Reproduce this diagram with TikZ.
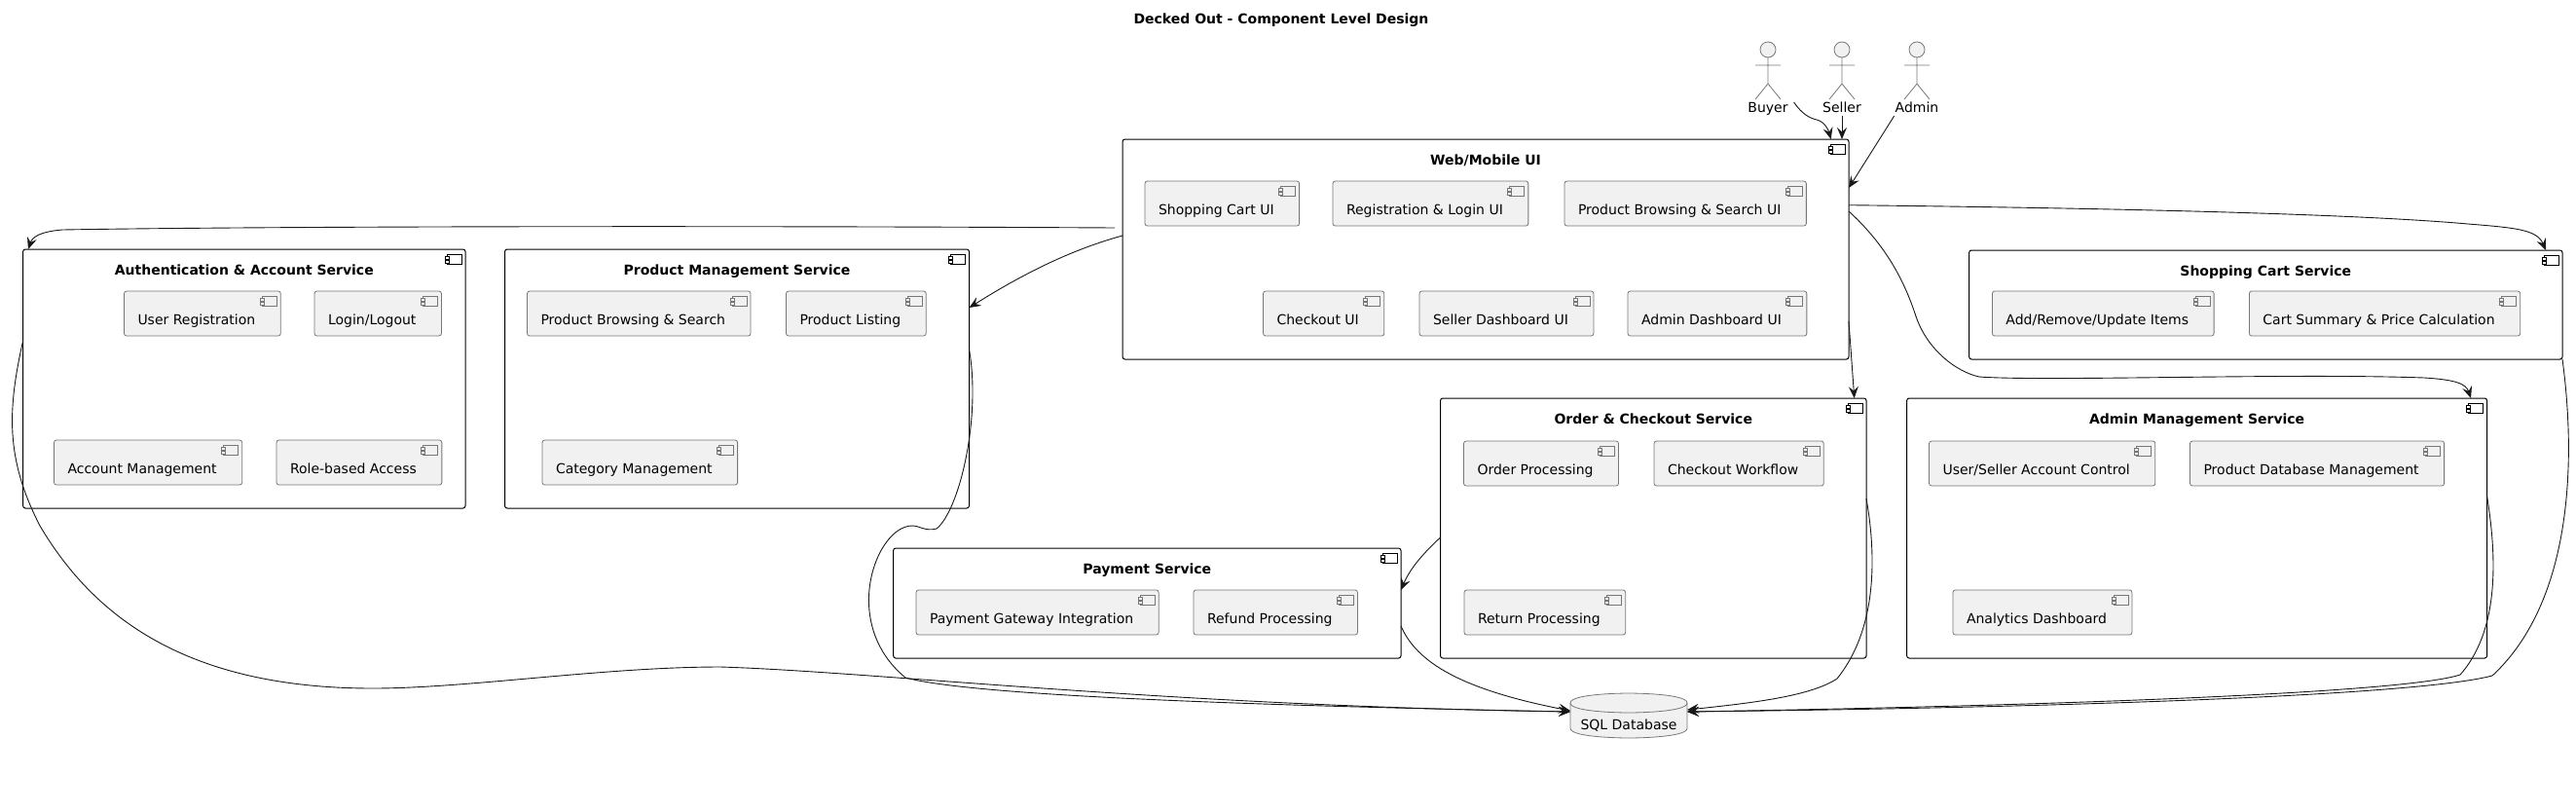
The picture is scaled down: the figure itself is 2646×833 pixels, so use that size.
\documentclass[tikz,border=0pt]{standalone}
\usepackage{fontspec}
\setmainfont{DejaVu Sans}
\usetikzlibrary{arrows.meta}
\definecolor{linedark}{HTML}{181818}
\definecolor{linegrey}{HTML}{777777}
\definecolor{partfill}{HTML}{F1F1F1}
\tikzset{
  svcbox/.style 2 args={draw=black,line width=1pt,rounded corners=2.5pt,outer sep=0pt,inner sep=0pt,anchor=north west,
    minimum width=#1pt,minimum height=#2pt,text height=26pt,text depth={#2pt-26pt},font=\fontsize{14pt}{17pt}\selectfont\bfseries},
  partbox/.style={draw=linegrey,line width=.8pt,fill=partfill,rounded corners=2.5pt,outer sep=0pt,anchor=north west,
    inner xsep=14pt,inner ysep=0pt,minimum height=46pt,text height=34pt,text depth=12pt,execute at end node={\hspace*{12pt}}},
  actorlabel/.style={inner xsep=1pt,inner ysep=1pt,text height=11pt,text depth=3pt,outer sep=0pt},
  thinpart/.style={draw=linegrey,line width=.8pt,fill=partfill},
  svcicon/.style={draw=black,line width=1pt,fill=white},
  flow/.style={draw=linedark,line width=.9pt,-{Stealth[length=12pt,width=10pt,inset=4.5pt]}}
}
\newcommand{\cmpicon}[2]{
  \draw[#2] ([shift={(-19,-5)}]#1.north east) rectangle ([shift={(-4,-15.5)}]#1.north east);
  \draw[#2] ([shift={(-21,-7.5)}]#1.north east) rectangle ([shift={(-17,-10)}]#1.north east);
  \draw[#2] ([shift={(-21,-11.5)}]#1.north east) rectangle ([shift={(-17,-14)}]#1.north east);
}
\newcommand{\svc}[5]{
  \node[svcbox={#3}{#4}] (#1) at (#2) {#5};
  \cmpicon{#1}{svcicon}
}
\newcommand{\cmp}[3]{
  \node[partbox] (#1) at (#2) {#3};
  \cmpicon{#1}{thinpart}
}
\newcommand{\actorfig}[1]{
  \begin{scope}[shift={(#1)}]
    \draw[thinpart] (0,60) circle (8);
    \draw[draw=linegrey,line width=.8pt] (-13,44) -- (13,44) (0,52) -- (0,25) (-13,9) -- (0,25) -- (13,9);
  \end{scope}
}
\begin{document}
\begin{tikzpicture}[x=1pt,y=1pt,font=\fontsize{14pt}{17pt}\selectfont]
    \useasboundingbox (0,0) rectangle (2646,-833);

    \node[font=\fontsize{14pt}{17pt}\selectfont\bfseries] (title) at (1316,-20.5) {Decked Out - Component Level Design};

    % actors
    \node[actorlabel] (buyer) at (1816,-111) {Buyer};
    \node[actorlabel] (seller) at (1892,-111) {Seller};
    \node[actorlabel] (adminuser) at (1969,-111) {Admin};
    \actorfig{buyer}
    \actorfig{seller}
    \actorfig{adminuser}

    % web
    \svc{web}{1153,-143}{746}{226}{Web/Mobile UI}
    \cmp{cartui}{1176,-186}{Shopping Cart UI}
    \cmp{loginui}{1369,-186}{Registration \& Login UI}
    \cmp{browseui}{1607,-186}{Product Browsing \& Search UI}
    \cmp{checkoutui}{1297.5,-299}{Checkout UI}
    \cmp{sellerui}{1458,-299}{Seller Dashboard UI}
    \cmp{adminui}{1672,-299}{Admin Dashboard UI}

    % auth
    \svc{auth}{23.6,-256}{454.4}{266}{Authentication \& Account Service}
    \cmp{userreg}{127.5,-299}{User Registration}
    \cmp{login}{323,-299}{Login/Logout}
    \cmp{account}{55.5,-452}{Account Management}
    \cmp{roles}{284,-452}{Role-based Access}

    % product
    \svc{prod}{518.5,-256}{477}{266}{Product Management Service}
    \cmp{browse}{541.5,-299}{Product Browsing \& Search}
    \cmp{listing}{807.5,-299}{Product Listing}
    \cmp{category}{557,-452}{Category Management}

    % cart
    \svc{cart}{2022.6,-257}{609.4}{112}{Shopping Cart Service}
    \cmp{items}{2046.4,-299}{Add/Remove/Update Items}
    \cmp{summary}{2310.4,-299}{Cart Summary \& Price Calculation}

    % order
    \svc{order}{1479.5,-409}{437.5}{267}{Order \& Checkout Service}
    \cmp{orderproc}{1503.5,-453}{Order Processing}
    \cmp{workflow}{1699,-453}{Checkout Workflow}
    \cmp{returns}{1504,-606}{Return Processing}

    % admin
    \svc{adminsvc}{1958.6,-409}{596}{267}{Admin Management Service}
    \cmp{usercontrol}{1981.5,-453}{User/Seller Account Control}
    \cmp{proddb}{2249.5,-453}{Product Database Management}
    \cmp{analytics}{2006,-606}{Analytics Dashboard}

    % payment
    \svc{pay}{917.6,-563}{521.4}{113}{Payment Service}
    \cmp{gateway}{941,-606}{Payment Gateway Integration}
    \cmp{refund}{1226,-606}{Refund Processing}

    % database
    \path[thinpart] (1613,-722) .. controls (1613,-712) and (1673,-712) .. (1673,-712)
      .. controls (1673,-712) and (1733,-712) .. (1733,-722) -- (1733,-748)
      .. controls (1733,-758) and (1673,-758) .. (1673,-758)
      .. controls (1673,-758) and (1613,-758) .. (1613,-748) -- cycle;
    \draw[draw=linegrey,line width=.8pt] (1613,-722) .. controls (1613,-732) and (1673,-732) .. (1673,-732)
      .. controls (1673,-732) and (1733,-732) .. (1733,-722);
    \node[minimum width=120pt,minimum height=46pt,inner sep=0pt,outer sep=0pt,text height=37pt,text depth=9pt] (db) at (1673,-735) {SQL Database};

    % actors to web
    \draw[flow] ([shift={(5,-2)}]buyer.north east) .. controls (1851,-117) and (1858,-121) .. (1866,-123)
      .. controls (1874,-125) and (1878,-133) .. ([xshift=-18.3pt]web.north east);
    \draw[flow] (seller.south) -- (seller.south |- web.north);
    \draw[flow] (adminuser.south west) -- ([yshift=-50pt]web.north east);

    % web to services
    \draw[flow] ([shift={(-8,-91)}]web.north west) .. controls (800,-232) and (300,-232) .. (64,-236)
      .. controls (40,-238) and (33,-244) .. ([xshift=5.4pt]auth.north west);
    \draw[flow] ([yshift=-99pt]web.north west) .. controls (1095,-258) and (1045,-285) .. ([yshift=-60pt]prod.north east);
    \draw[flow] ([yshift=-67.7pt]web.north east) .. controls (2100,-213) and (2400,-218) .. (2535,-230)
      .. controls (2585,-234) and (2606,-236) .. ([xshift=-17pt]cart.north east);
    \draw[flow] ([yshift=-74pt]web.north east) .. controls (1935,-250) and (1955,-285) .. (1968,-325)
      .. controls (1980,-360) and (2010,-382) .. (2033,-387)
      .. controls (2100,-392) and (2350,-383) .. (2490,-388)
      .. controls (2522,-390) and (2533,-394) .. ([xshift=-16.6pt]adminsvc.north east);
    \draw[flow] ([yshift=-187pt]web.north east) -- ([xshift=-12.3pt]order.north east);
    \draw[flow] ([yshift=-143pt]order.north west) .. controls (1460,-570) and (1448,-585) .. ([yshift=-43pt]pay.north east);

    % services to database
    \draw[flow] ([yshift=-94pt]auth.north west) .. controls (8,-420) and (5,-470) .. (41,-540)
      .. controls (100,-640) and (200,-707) .. (383,-707)
      .. controls (480,-707) and (620,-685) .. (740,-685)
      .. controls (900,-690) and (1200,-725) .. ([yshift=4pt]db.west);
    \draw[flow] ([yshift=-103pt]prod.north east) .. controls (1008,-430) and (985,-525) .. (962,-543)
      .. controls (950,-546) and (945,-540) .. (937,-540)
      .. controls (900,-540) and (862,-640) .. (930,-696)
      .. controls (1000,-715) and (1300,-725) .. ([yshift=4pt]db.west);
    \draw[flow] ([yshift=-80pt]pay.north east) .. controls (1455,-680) and (1500,-708) .. ([yshift=5pt]db.west);
    \draw[flow] ([yshift=-103pt]order.north east) .. controls (1929,-580) and (1925,-650) .. (1887,-697)
      .. controls (1860,-715) and (1800,-722) .. ([yshift=6pt]db.east);
    \draw[flow] ([yshift=-101pt]adminsvc.north east) .. controls (2566,-580) and (2565,-650) .. (2527,-693)
      .. controls (2470,-712) and (2100,-725) .. ([yshift=4pt]db.east);
    \draw[flow] (cart.south east) .. controls (2647,-480) and (2640,-620) .. (2560,-694)
      .. controls (2480,-715) and (2100,-727) .. ([yshift=4pt]db.east);
\end{tikzpicture}
\end{document}
